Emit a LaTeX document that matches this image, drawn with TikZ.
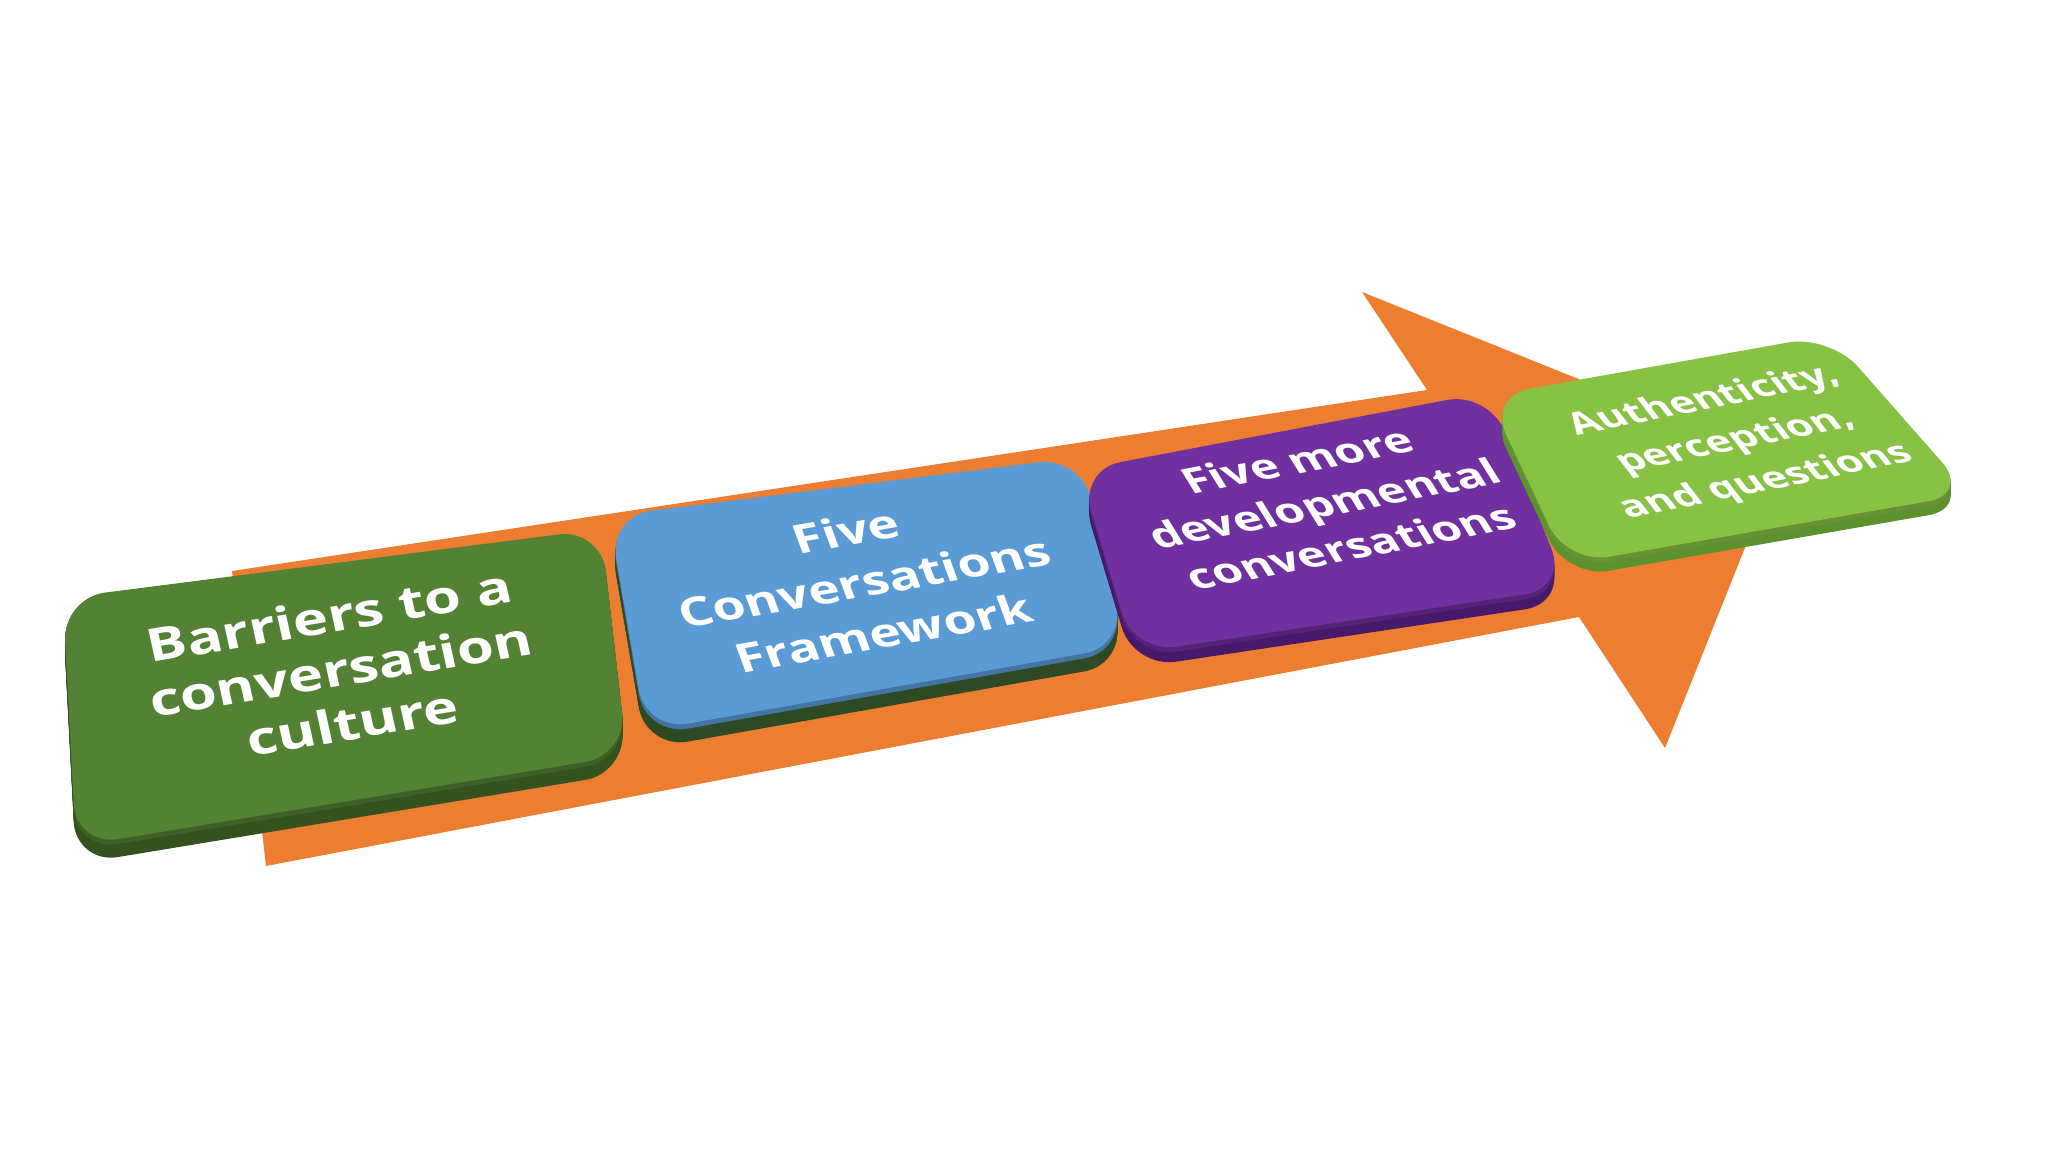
\documentclass[tikz,border=0pt]{standalone}
\usepackage{fontspec}
\setmainfont{Open Sans}
\usepackage{tikz}

\definecolor{arroworange}{HTML}{ED7D31}
\definecolor{darkgreen}{HTML}{548235}
\definecolor{darkgreenside}{HTML}{34521F}
\definecolor{skyblue}{HTML}{5B9BD5}
\definecolor{skyblueside}{HTML}{2E4A24}
\definecolor{violet}{HTML}{7030A0}
\definecolor{violetside}{HTML}{46196B}
\definecolor{limegreen}{HTML}{88C245}
\definecolor{limegreenside}{HTML}{5C922E}

\newcommand\lines[1]{\begin{tabular}{@{}c@{}}#1\end{tabular}}

% a raised slab: face colour, side colour, depth, four corners
\newcommand\slab[7]{%
  \foreach \s in {#3,...,1}
    \fill[#2,rounded corners=12pt,yshift=-\s*0.01cm] #4 -- #5 -- #6 -- #7 -- cycle;
  \fill[#1!75!black,rounded corners=12pt,yshift=-0.05cm] #4 -- #5 -- #6 -- #7 -- cycle;
  \fill[#1,rounded corners=12pt] #4 -- #5 -- #6 -- #7 -- cycle;}

\begin{document}
\begin{tikzpicture}[x=0.01cm,y=-0.01cm]
    \useasboundingbox (0,0) rectangle (2048,1152);
    \begin{scope}[
        every node/.style={text=white,transform shape,inner sep=0pt}
        ]
        % the arrow
        \fill[arroworange] (232,571) -- (1427,390) -- (1362,292) -- (1780,460)
            -- (1665,748) -- (1579,617) -- (266,866) -- cycle;

        % the four steps
        \slab{darkgreen}{darkgreenside}{18}{(63,598)}{(601,529)}{(627,755)}{(76,846)}
        \slab{skyblue}{skyblueside}{18}{(609,516)}{(1081,457)}{(1126,646)}{(646,731)}
        \slab{violet}{violetside}{15}{(1079,470)}{(1489,392)}{(1567,588)}{(1134,653)}
        \slab{limegreen}{limegreenside}{14}{(1488,396)}{(1830,335)}{(1970,494)}{(1567,564)}

        \node[rotate=9.5,xslant=-0.05,xscale=1.3,font=\bfseries\fontsize{13}{15.5}\selectfont] (barriers) at (342,675)
            {\lines{Barriers to a\\conversation\\culture}};
        \node[rotate=10,xslant=-0.18,xscale=1.3,font=\bfseries\fontsize{11.5}{15.2}\selectfont] (framework) at (866,586)
            {\lines{Five\\Conversations\\Framework}};
        \node[rotate=11,xslant=-0.38,xscale=1.3,font=\bfseries\fontsize{10.3}{13.5}\selectfont] (developmental) at (1326,507)
            {\lines{Five more\\developmental\\conversations}};
        \node[rotate=11.5,xslant=-0.49,xscale=1.3,font=\bfseries\fontsize{9.1}{13}\selectfont] (authenticity) at (1735,441)
            {\lines{Authenticity,\\perception,\\and questions}};
    \end{scope}
\end{tikzpicture}
\end{document}
